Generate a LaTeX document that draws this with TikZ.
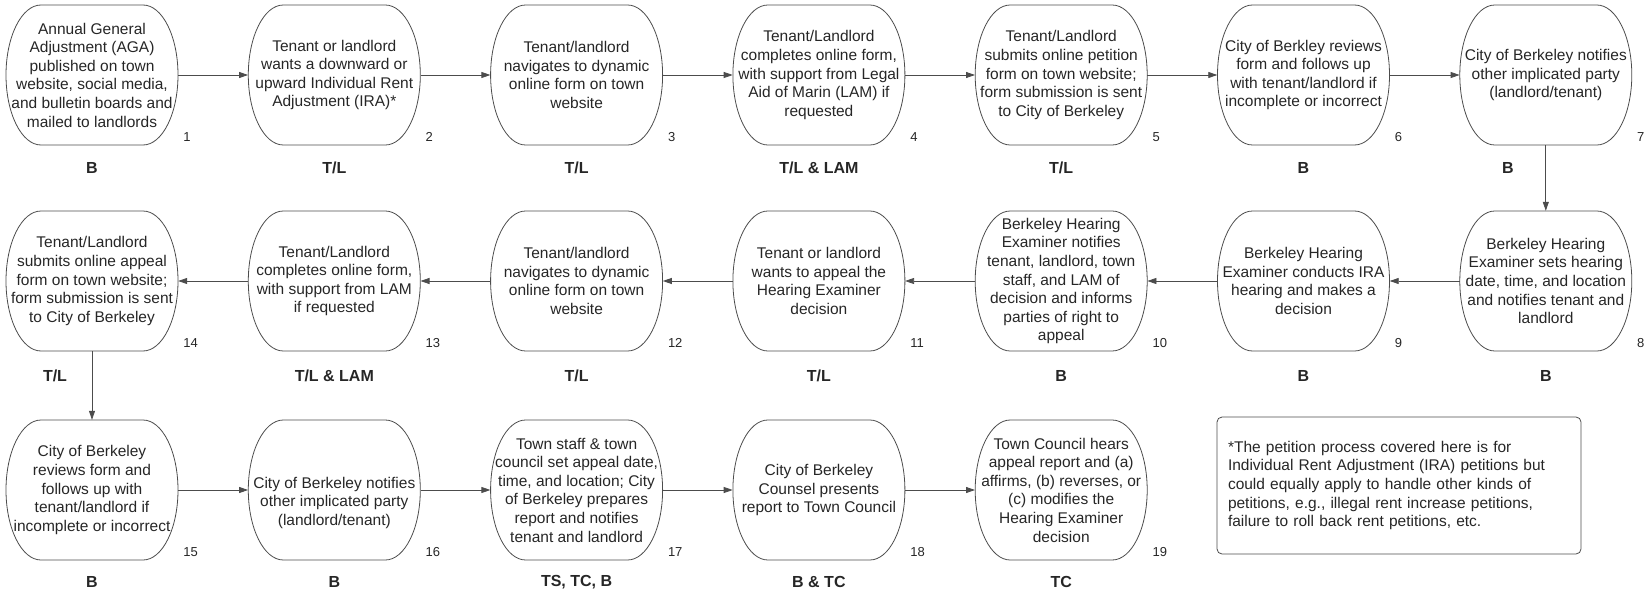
\documentclass[tikz,border=0pt]{standalone}
\usepackage{fontspec}
\setmainfont{Liberation Sans}
\usetikzlibrary{arrows.meta}
\begin{document}
\begin{tikzpicture}[x=1pt,y=-1pt,
  boxtext/.style={shape=rectangle, inner sep=0pt, minimum width=172pt, minimum height=140pt, align=center, font=\fontsize{15.5pt}{18.6pt}\selectfont, text=black!85},
  boxline/.style={draw=black!70, line width=0.8pt},
  role/.style={font=\fontsize{16pt}{19pt}\selectfont\bfseries, text=black!85},
  num/.style={font=\fontsize{13pt}{15pt}\selectfont, text=black!85, anchor=base west, inner sep=0pt},
  flow/.style={draw=black!70, line width=0.8pt, -{Triangle[length=9pt,width=6pt]}},
  note/.style={draw=black!70, line width=0.8pt, rounded corners=5pt, text width=342pt, inner xsep=11pt, inner ysep=0pt, minimum height=137pt, align=left, font=\fontsize{15.5pt}{18.6pt}\selectfont, text=black!85}
]
\useasboundingbox (0,0) rectangle (1650,594);

% Row 1
\node[boxtext] (b1) at (92,75) {Annual General\\Adjustment (AGA)\\published on town\\website, social media,\\and bulletin boards and\\mailed to landlords};
\node[boxtext] (b2) at (334.3,75) {Tenant or landlord\\wants a downward or\\upward Individual Rent\\Adjustment (IRA)*};
\node[boxtext] (b3) at (576.6,75) {Tenant/landlord\\navigates to dynamic\\online form on town\\website};
\node[boxtext] (b4) at (818.9,75) {Tenant/Landlord\\completes online form,\\with support from Legal\\Aid of Marin (LAM) if\\requested};
\node[boxtext] (b5) at (1061.2,75) {Tenant/Landlord\\submits online petition\\form on town website;\\form submission is sent\\to City of Berkeley};
\node[boxtext] (b6) at (1303.5,75) {City of Berkley reviews\\form and follows up\\with tenant/landlord if\\incomplete or incorrect};
\node[boxtext] (b7) at (1545.8,75) {City of Berkeley notifies\\other implicated party\\(landlord/tenant)};

% Row 2
\node[boxtext] (b8) at (1545.8,281) {Berkeley Hearing\\Examiner sets hearing\\date, time, and location\\and notifies tenant and\\landlord};
\node[boxtext] (b9) at (1303.5,281) {Berkeley Hearing\\Examiner conducts IRA\\hearing and makes a\\decision};
\node[boxtext] (b10) at (1061.2,281) {Berkeley Hearing\\Examiner notifies\\tenant, landlord, town\\staff, and LAM of\\decision and informs\\parties of right to\\appeal};
\node[boxtext] (b11) at (818.9,281) {Tenant or landlord\\wants to appeal the\\Hearing Examiner\\decision};
\node[boxtext] (b12) at (576.6,281) {Tenant/landlord\\navigates to dynamic\\online form on town\\website};
\node[boxtext] (b13) at (334.3,281) {Tenant/Landlord\\completes online form,\\with support from LAM\\if requested};
\node[boxtext] (b14) at (92,281) {Tenant/Landlord\\submits online appeal\\form on town website;\\form submission is sent\\to City of Berkeley};

% Row 3
\node[boxtext] (b15) at (92,490) {City of Berkeley\\reviews form and\\follows up with\\tenant/landlord if\\incomplete or incorrect};
\node[boxtext] (b16) at (334.3,490) {\mbox{}\\\mbox{}\\City of Berkeley notifies\\other implicated party\\(landlord/tenant)};
\node[boxtext] (b17) at (576.6,490) {Town staff \& town\\council set appeal date,\\time, and location; City\\of Berkeley prepares\\report and notifies\\tenant and landlord};
\node[boxtext] (b18) at (818.9,490) {City of Berkeley\\Counsel presents\\report to Town Council};
\node[boxtext] (b19) at (1061.2,490) {Town Council hears\\appeal report and (a)\\affirms, (b) reverses, or\\(c) modifies the\\Hearing Examiner\\decision};

% outlines and numbers
\foreach \n in {1,...,19} {
  \draw[boxline] ([shift={(-51pt,70pt)}]b\n.center) -- ([shift={(51pt,70pt)}]b\n.center)
    arc[start angle=90,end angle=-90,x radius=35pt,y radius=70pt]
    -- ([shift={(-51pt,-70pt)}]b\n.center)
    arc[start angle=270,end angle=90,x radius=35pt,y radius=70pt] -- cycle;
  \node[num] (n\n) at ([shift={(5pt,4pt)}]b\n.south east) {\n};
}

% roles
\node[role] (r1) at (92,168) {B};
\node[role] (r2) at (334.3,168) {T/L};
\node[role] (r3) at (576.6,168) {T/L};
\node[role] (r4) at (818.9,168) {T/L \& LAM};
\node[role] (r5) at (1061.2,168) {T/L};
\node[role] (r6) at (1303.5,168) {B};
\node[role] (r7) at (1508,168) {B};
\node[role] (r8) at (1545.8,376) {B};
\node[role] (r9) at (1303.5,376) {B};
\node[role] (r10) at (1061.2,376) {B};
\node[role] (r11) at (818.9,376) {T/L};
\node[role] (r12) at (576.6,376) {T/L};
\node[role] (r13) at (334.3,376) {T/L \& LAM};
\node[role] (r14) at (55,376) {T/L};
\node[role] (r15) at (92,582) {B};
\node[role] (r16) at (334.3,582) {B};
\node[role] (r17) at (576.6,582) {TS, TC, B};
\node[role] (r18) at (818.9,582) {B \& TC};
\node[role] (r19) at (1061.2,582) {TC};

% connectors
\draw[flow] (b1) -- (b2);
\draw[flow] (b2) -- (b3);
\draw[flow] (b3) -- (b4);
\draw[flow] (b4) -- (b5);
\draw[flow] (b5) -- (b6);
\draw[flow] (b6) -- (b7);
\draw[flow] (b7) -- (b8);
\draw[flow] (b8) -- (b9);
\draw[flow] (b9) -- (b10);
\draw[flow] (b10) -- (b11);
\draw[flow] (b11) -- (b12);
\draw[flow] (b12) -- (b13);
\draw[flow] (b13) -- (b14);
\draw[flow] (b14) -- (b15);
\draw[flow] (b15) -- (b16);
\draw[flow] (b16) -- (b17);
\draw[flow] (b17) -- (b18);
\draw[flow] (b18) -- (b19);

% note
\node[note] (note) at (1399,485.5) {*The petition process covered here is for\\Individual Rent Adjustment (IRA) petitions but\\could equally apply to handle other kinds of\\petitions, e.g., illegal rent increase petitions,\\failure to roll back rent petitions, etc.};
\end{tikzpicture}
\end{document}
